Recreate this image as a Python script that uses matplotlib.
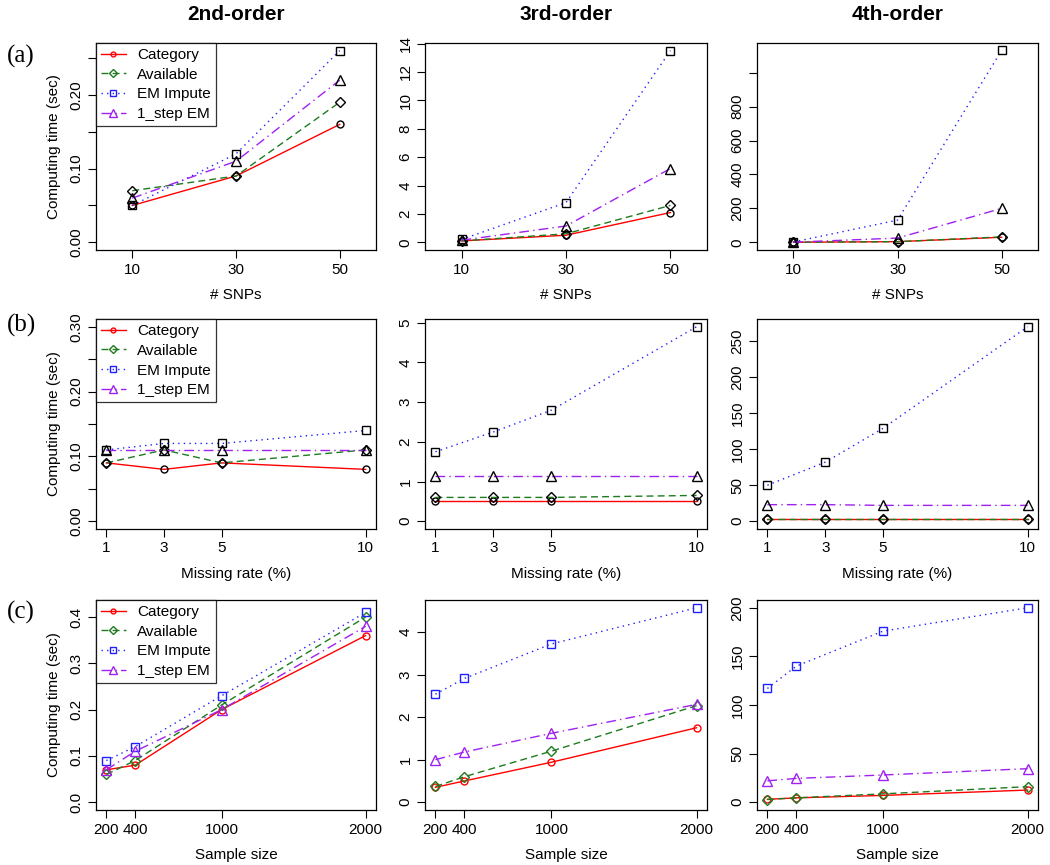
import numpy as np
import matplotlib
matplotlib.use("Agg")
import matplotlib.pyplot as plt
from matplotlib.lines import Line2D

plt.rcParams['font.family'] = ['Liberation Sans', 'DejaVu Sans']

# -------------------------------------------------
# dados
# -------------------------------------------------

orders = ["2nd-order", "3rd-order", "4th-order"]
methods = ["Category", "Available", "EM Impute", "1_step EM"]

snps = [10, 30, 50]
miss_rate = [1, 3, 5, 10]
sample_size = [200, 400, 1000, 2000]

# (a) tempo vs # SNPs  -> [2nd, 3rd, 4th]
a_category = [[0.05, 0.09, 0.16], [0.10, 0.50, 2.10], [0.5, 4, 30]]
a_available = [[0.07, 0.09, 0.19], [0.10, 0.60, 2.60], [0.5, 4, 32]]
a_em_impute = [[0.05, 0.12, 0.26], [0.20, 2.80, 13.5], [2, 131, 1131]]
a_one_step = [[0.06, 0.11, 0.22], [0.15, 1.15, 5.20], [1, 25, 200]]

# (b) tempo vs missing rate
b_category = [[0.09, 0.08, 0.09, 0.08], [0.50, 0.50, 0.50, 0.50], [3, 3, 3, 3]]
b_available = [[0.09, 0.11, 0.09, 0.11], [0.60, 0.60, 0.60, 0.65], [3.5, 3.5, 3.5, 3.5]]
b_em_impute = [[0.11, 0.12, 0.12, 0.14], [1.75, 2.25, 2.80, 4.90], [50, 82, 129, 270]]
b_one_step = [[0.11, 0.11, 0.11, 0.11], [1.15, 1.15, 1.15, 1.15], [23, 23, 22, 22]]

# (c) tempo vs sample size
c_category = [[0.07, 0.08, 0.20, 0.36], [0.35, 0.50, 0.94, 1.75], [3, 4.5, 7, 12.5]]
c_available = [[0.06, 0.09, 0.21, 0.40], [0.37, 0.60, 1.20, 2.27], [2.8, 4.5, 8.6, 16]]
c_em_impute = [[0.09, 0.12, 0.23, 0.41], [2.54, 2.91, 3.72, 4.57], [117, 140, 176, 200]]
c_one_step = [[0.07, 0.11, 0.20, 0.38], [1.00, 1.18, 1.62, 2.30], [22, 24.5, 28, 34.5]]

# -------------------------------------------------
# estilo (imitando o R)
# -------------------------------------------------

colors = ["#FF0000", "#1E7B1E", "#2020FF", "#A020F0"]
styles = ["-", (0, (5, 3)), (0, (1, 3)), (0, (7, 3, 1, 3))]
markers = ["o", "D", "s", "^"]
msizes = [5, 5.5, 6, 7]

row_x = [snps, miss_rate, sample_size]
row_xlim = [(5, 55), (1, 10), (200, 2000)]
row_xlabel = ["# SNPs", "Missing rate (%)", "Sample size"]
row_tag = ["(a)", "(b)", "(c)"]

row_ylim = [
    [(0, 0.26), (0, 13.5), (0, 1130)],
    [(0, 0.30), (0, 4.9), (0, 270)],
    [(0, 0.42), (0, 4.57), (0, 200)],
]

yticks = [
    [np.arange(0, 0.26, 0.05), np.arange(0, 15, 2), np.arange(0, 1001, 200)],
    [np.arange(0, 0.31, 0.05), np.arange(0, 6, 1), np.arange(0, 251, 50)],
    [np.arange(0, 0.41, 0.1), np.arange(0, 5, 1), np.arange(0, 201, 50)],
]
ylabels = [
    [["0.00", "", "0.10", "", "0.20", ""], None, ["0", "200", "400", "600", "800", ""]],
    [["0.00", "", "0.10", "", "0.20", "", "0.30"], None, None],
    [["0.0", "0.1", "0.2", "0.3", "0.4"], None, None],
]

row_data = [
    [a_category, a_available, a_em_impute, a_one_step],
    [b_category, b_available, b_em_impute, b_one_step],
    [c_category, c_available, c_em_impute, c_one_step],
]


def pad(lim, f=0.04):
    d = (lim[1] - lim[0]) * f
    return lim[0] - d, lim[1] + d


# -------------------------------------------------
# figura
# -------------------------------------------------

W, H = 1050, 865
fig = plt.figure(figsize=(W / 100, H / 100), dpi=100)

col_left = [96, 425, 757]
col_width = [280, 282, 281]
row_top = [43, 319, 600]
row_height = [207, 210, 210]

for r in range(3):
    for c in range(3):
        ax = fig.add_axes([col_left[c] / W, 1 - (row_top[r] + row_height[r]) / H,
                           col_width[c] / W, row_height[r] / H])
        x = row_x[r]
        for m in range(4):
            y = row_data[r][m][c]
            mec = colors[m] if r == 2 else "black"
            ax.plot(x, y, color=colors[m], linestyle=styles[m], linewidth=1.0,
                    marker=markers[m], markersize=msizes[m], markerfacecolor="none",
                    markeredgecolor=mec, markeredgewidth=1.0)

        ax.set_xlim(pad(row_xlim[r]))
        ax.set_ylim(pad(row_ylim[r][c]))
        ax.set_xticks(x)
        ax.set_yticks(yticks[r][c])
        if ylabels[r][c] is not None:
            ax.set_yticklabels(ylabels[r][c])
        ax.tick_params(axis="y", labelrotation=90)
        for lab in ax.get_yticklabels():
            lab.set_va("center")
        ax.tick_params(direction="out", length=6, width=0.8, labelsize=11, pad=3)
        for s in ax.spines.values():
            s.set_linewidth(0.9)
        ax.set_xlabel(row_xlabel[r], fontsize=11, labelpad=8)

        if c == 0:
            ax.set_ylabel("Computing time (sec)", fontsize=11, labelpad=6)
            handles = [Line2D([0], [0], color=colors[m], linestyle=styles[m], linewidth=1.0,
                              marker=markers[m], markersize=msizes[m] - 1.5,
                              markerfacecolor="none", markeredgecolor=colors[m])
                       for m in range(4)]
            leg = ax.legend(handles, methods, loc="upper left", borderaxespad=0,
                            fontsize=11, frameon=True, fancybox=False, edgecolor="black",
                            handlelength=1.65, labelspacing=0.38, borderpad=0.32,
                            handletextpad=0.72)
            leg.get_frame().set_linewidth(0.9)

        if r == 0:
            fig.text((col_left[c] + col_width[c] / 2) / W, 1 - 14 / H, orders[c],
                     ha="center", va="center", fontsize=15, fontweight="bold")

    fig.text(21 / W, 1 - [56, 325, 612][r] / H, row_tag[r], ha="center", va="center",
             fontsize=18, family=["Liberation Serif", "DejaVu Serif"])

fig.savefig("out.png", dpi=100)
